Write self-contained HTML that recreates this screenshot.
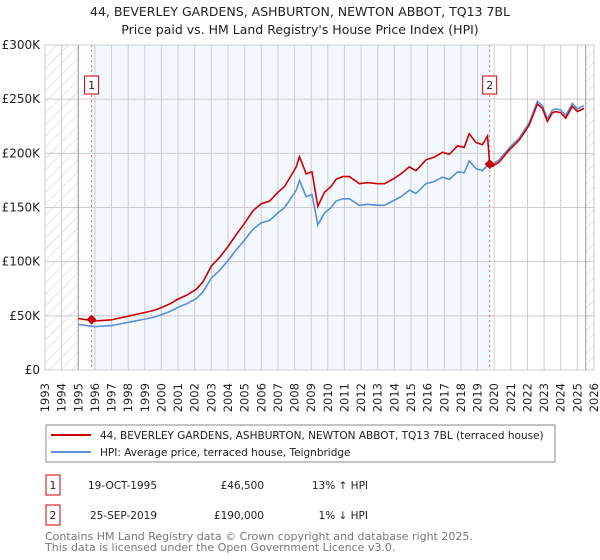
<!DOCTYPE html>
<html><head><meta charset="utf-8"><style>
body{margin:0;background:#fff;}
svg{display:block;font-family:"DejaVu Sans","Liberation Sans",sans-serif;}
</style></head><body>
<svg id="chart" width="600" height="560" viewBox="0 0 600 560">
<defs><pattern id="hatch" width="8" height="8" patternUnits="userSpaceOnUse" patternTransform="rotate(45)"><line x1="0" y1="0" x2="0" y2="8" stroke="#ccc" stroke-width="1"/></pattern></defs>
<text x="300" y="16" text-anchor="middle" font-size="12.5" fill="#222">44, BEVERLEY GARDENS, ASHBURTON, NEWTON ABBOT, TQ13 7BL</text>
<text x="300" y="34" text-anchor="middle" font-size="12.5" fill="#222">Price paid vs. HM Land Registry's House Price Index (HPI)</text>
<g id="plot"></g>
<g>
<rect x="46" y="425" width="509" height="37" fill="#fff" stroke="#888"/>
<line x1="51" y1="435" x2="91" y2="435" stroke="#cc0000" stroke-width="2"/>
<text x="100" y="439" font-size="10.5" fill="#222">44, BEVERLEY GARDENS, ASHBURTON, NEWTON ABBOT, TQ13 7BL (terraced house)</text>
<line x1="51" y1="452" x2="91" y2="452" stroke="#5b8ed6" stroke-width="2"/>
<text x="100" y="456" font-size="10.5" fill="#222">HPI: Average price, terraced house, Teignbridge</text>
</g>
<g font-size="10.5" fill="#222">
<rect x="46" y="475" width="14" height="20" fill="#fff" stroke="#cc0000"/>
<text x="53" y="489" text-anchor="middle">1</text>
<text x="157" y="489" text-anchor="end">19-OCT-1995</text>
<text x="264" y="489" text-anchor="end">£46,500</text>
<text x="368" y="489" text-anchor="end">13% ↑ HPI</text>
<rect x="46" y="505" width="14" height="20" fill="#fff" stroke="#cc0000"/>
<text x="53" y="519" text-anchor="middle">2</text>
<text x="157" y="519" text-anchor="end">25-SEP-2019</text>
<text x="264" y="519" text-anchor="end">£190,000</text>
<text x="368" y="519" text-anchor="end">1% ↓ HPI</text>
</g>
<text x="45" y="540" font-size="11" fill="#777">Contains HM Land Registry data © Crown copyright and database right 2025.</text>
<text x="45" y="551" font-size="11" fill="#777">This data is licensed under the Open Government Licence v3.0.</text>
</svg>
<script>
const yearTicks=[1993,1994,1995,1996,1997,1998,1999,2000,2001,2002,2003,2004,2005,2006,2007,2008,2009,2010,2011,2012,2013,2014,2015,2016,2017,2018,2019,2020,2021,2022,2023,2024,2025,2026];
const priceTicks=[0,50000,100000,150000,200000,250000,300000];
const priceTickLabels=["£0","£50K","£100K","£150K","£200K","£250K","£300K"];
const hpiDates=[1995.0,1995.5,1996.0,1996.5,1997.0,1997.5,1998.0,1998.5,1999.0,1999.5,2000.0,2000.5,2001.0,2001.5,2002.1,2002.5,2003.0,2003.5,2004.0,2004.5,2005.0,2005.5,2006.0,2006.5,2007.0,2007.4,2007.8,2008.1,2008.3,2008.7,2009.05,2009.4,2009.8,2010.2,2010.5,2010.9,2011.3,2011.9,2012.4,2013.0,2013.4,2013.9,2014.4,2014.9,2015.3,2015.9,2016.4,2016.9,2017.3,2017.8,2018.2,2018.5,2018.9,2019.3,2019.6,2019.9,2020.3,2020.9,2021.5,2022.1,2022.6,2022.9,2023.2,2023.5,2023.7,2024.0,2024.3,2024.7,2025.0,2025.4];
const hpiValues=[42000,41000,40000,40500,41000,42500,44000,45500,47000,48500,51000,54000,58000,61000,66000,72000,85000,92000,101000,111000,120000,130000,136000,138000,145000,150000,159000,166000,175000,160000,162000,134000,145000,150000,156000,158000,158000,152000,153000,152000,152000,156000,160000,166000,163000,172000,174000,178000,176000,183000,182000,193000,186000,184000,189000,190000,194000,205000,214000,228000,248000,244000,232000,240000,241000,240000,235000,246000,241000,244000];
const saleDates=[1995.8,2019.73];
const salePrices=[46500,190000];
const propDates=[1995.0,1995.5,1995.8,1996.0,1996.5,1997.0,1997.5,1998.0,1998.5,1999.0,1999.5,2000.0,2000.5,2001.0,2001.5,2002.1,2002.5,2003.0,2003.5,2004.0,2004.5,2005.0,2005.5,2006.0,2006.5,2007.0,2007.4,2007.8,2008.1,2008.3,2008.7,2009.05,2009.4,2009.8,2010.2,2010.5,2010.9,2011.3,2011.9,2012.4,2013.0,2013.4,2013.9,2014.4,2014.9,2015.3,2015.9,2016.4,2016.9,2017.3,2017.8,2018.2,2018.5,2018.9,2019.3,2019.6,2019.73,2019.9,2020.3,2020.9,2021.5,2022.1,2022.6,2022.9,2023.2,2023.5,2023.7,2024.0,2024.3,2024.7,2025.0,2025.4];
const propValues=[47500,46300,46500,45200,45800,46300,48000,49700,51400,53100,54800,57600,61000,65500,69000,74600,81400,96000,104000,114000,125000,135500,147000,153500,156000,164000,169500,179500,187500,197000,181000,183000,151000,164000,169500,176000,178500,178500,172000,173000,172000,172000,176000,181000,187500,184000,194000,196500,201000,199000,207000,205500,218000,210000,208000,216000,190000,188000,192000,203000,212000,226000,245500,241500,229500,237500,238500,237500,232500,243500,238500,241500];
const X0=45,X1=594,Y0=370,Y1=45;
const xs=d=>X0+(d-1993)/(2026-1993)*(X1-X0);
const ys=v=>Y0-v/300000*(Y0-Y1);
const NS="http://www.w3.org/2000/svg";
const plot=document.getElementById('plot');
function mk(tag,attrs,parent){const e=document.createElementNS(NS,tag);for(const k in attrs)e.setAttribute(k,attrs[k]);(parent||plot).appendChild(e);return e;}
let r=mk('rect',{x:X0,y:Y1,width:X1-X0,height:Y0-Y1,fill:'#fff'});


r=mk('rect',{x:xs(saleDates[0]),y:Y1,width:xs(saleDates[1])-xs(saleDates[0]),height:Y0-Y1,fill:'#f3f7fe'});


r=mk('rect',{x:X0,y:Y1,width:xs(1995)-X0,height:Y0-Y1,fill:'url(#hatch)'});


r=mk('rect',{x:xs(2025.5),y:Y1,width:X1-xs(2025.5),height:Y0-Y1,fill:'url(#hatch)'});


priceTicks.forEach((v,i)=>{
 let l=mk('line',{x1:X0,x2:X1,y1:ys(v),y2:ys(v),stroke:'#ccc','stroke-width':1});
 
 
 let t=mk('text',{x:40,y:ys(v)+4,'text-anchor':'end','font-size':12,fill:'#222'});
 t.textContent=priceTickLabels[i];
 
 
});
yearTicks.forEach(y=>{
 let l=mk('line',{x1:xs(y),x2:xs(y),y1:Y1,y2:Y0,stroke:'#ccc','stroke-width':1});
 
 
 let t=mk('text',{x:0,y:0,'text-anchor':'end','font-size':11.5,fill:'#222',transform:`translate(${xs(y)+4},383) rotate(-90)`});
 t.textContent=y;
 
 
});
[xs(1995),xs(2025.5)].forEach(x=>{let l=mk('line',{x1:x,x2:x,y1:Y1,y2:Y0,stroke:'#999'});
 
 });
saleDates.forEach((d,i)=>{
 let l=mk('line',{x1:xs(d),x2:xs(d),y1:Y1,y2:Y0,stroke:'#e06060','stroke-dasharray':'2,3'});
 
 
});
let p=mk('path',{d:hpiDates.map((d,i)=>(i?'L':'M')+xs(d).toFixed(1)+','+ys(hpiValues[i]).toFixed(1)).join(''),fill:'none',stroke:'#5b8ed6','stroke-width':1.6});


p=mk('path',{d:propDates.map((d,i)=>(i?'L':'M')+xs(d).toFixed(1)+','+ys(propValues[i]).toFixed(1)).join(''),fill:'none',stroke:'#cc0000','stroke-width':1.6});


saleDates.forEach((d,i)=>{
 const x=xs(d),y=ys(salePrices[i]);
 let m=mk('path',{d:`M${x},${y-5}L${x+5},${y}L${x},${y+5}L${x-5},${y}Z`,fill:'#cc0000'});
 
 
 let b=mk('rect',{x:x-7,y:76,width:14,height:18,fill:'#fff',stroke:'#cc0000'});
 
 
 let t=mk('text',{x:x,y:89,'text-anchor':'middle','font-size':11,fill:'#222'});
 t.textContent=String(i+1);
 
 
});
r=mk('rect',{x:X0,y:Y1,width:X1-X0,height:Y0-Y1,fill:'none',stroke:'#ccc'});


</script>
</body></html>
